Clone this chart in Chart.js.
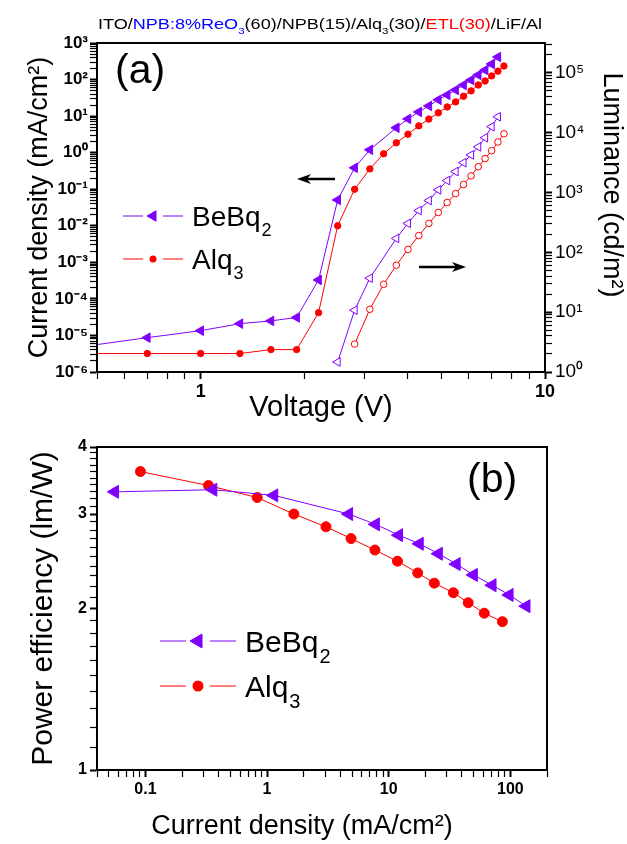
<!DOCTYPE html>
<html>
<head>
<meta charset="utf-8">
<script src="https://cdn.jsdelivr.net/npm/chart.js@4.4.0/dist/chart.umd.min.js"></script>
<style>
  body { margin: 0; background: #fff; }
  #wrap { position: relative; width: 627px; height: 844px; }
  canvas { position: absolute; left: 0; }
</style>
</head>
<body>
<div id="wrap">
  <canvas id="chartA" width="627" height="430" style="top:0px"></canvas>
  <canvas id="chartB" width="627" height="414" style="top:430px"></canvas>
</div>
<script>
var FONT = '"Liberation Sans", Arial, sans-serif';
var PURPLE = '#8000ff';
var RED = '#ff0000';

/* ---- (a) current density vs voltage ---- */
var voltBeBq = [0.4, 0.7, 1.0, 1.3, 1.6, 1.9, 2.2, 2.5, 2.8, 3.1, 3.7, 4.0, 4.3, 4.6, 4.9, 5.2, 5.5, 5.8, 6.1, 6.4, 6.7, 7.0, 7.3];
var jBeBq = [4.2e-6, 8.7e-6, 1.35e-5, 2.1e-5, 2.5e-5, 3.1e-5, 3.3e-4, 0.051, 0.385, 1.2, 4.8, 8.4, 13, 19, 28, 38, 52, 71, 97, 134, 182, 267, 414];
var voltAlq = [0.4, 0.7, 1.0, 1.3, 1.6, 1.9, 2.2, 2.5, 2.8, 3.1, 3.4, 3.7, 4.0, 4.3, 4.6, 4.9, 5.2, 5.5, 5.8, 6.1, 6.4, 6.7, 7.0, 7.3, 7.6];
var jAlq = [3.2e-6, 3.2e-6, 3.2e-6, 3.2e-6, 4.1e-6, 4.1e-6, 4.2e-5, 0.01, 0.10, 0.36, 0.93, 1.86, 3.2, 5.4, 8.3, 12.3, 17.8, 24.5, 35, 49, 71, 91, 126, 170, 235];

/* ---- (a) luminance vs voltage ---- */
var lumVoltBeBq = [2.5, 2.8, 3.1, 3.7, 4.0, 4.3, 4.6, 4.9, 5.2, 5.5, 5.8, 6.1, 6.4, 6.7, 7.0, 7.3];
var lumBeBq = [1.47, 10.8, 37, 171, 305, 500, 735, 1110, 1585, 2240, 3160, 4260, 5800, 8250, 12600, 18500];
var lumVoltAlq = [2.8, 3.1, 3.4, 3.7, 4.0, 4.3, 4.6, 4.9, 5.2, 5.5, 5.8, 6.1, 6.4, 6.7, 7.0, 7.3, 7.6];
var lumAlq = [2.93, 11.2, 29.3, 61, 112, 191, 305, 464, 681, 960, 1360, 1900, 2700, 3700, 5000, 7000, 9600];

/* ---- (b) power efficiency vs current density ---- */
var peJBeBq = [0.056, 0.36, 1.14, 4.7, 7.8, 12.1, 17.9, 25.7, 36, 49.8, 71, 98, 135];
var peBeBq = [3.30, 3.33, 3.25, 3.0, 2.87, 2.74, 2.64, 2.53, 2.42, 2.31, 2.21, 2.12, 2.02];
var peJAlq = [0.091, 0.33, 0.83, 1.66, 3.05, 4.9, 7.7, 11.8, 17.3, 23.7, 34, 45, 61, 86];
var peAlq = [3.6, 3.39, 3.22, 3.0, 2.84, 2.70, 2.57, 2.45, 2.33, 2.23, 2.14, 2.05, 1.96, 1.89];

/* ---- tick labels ---- */
var voltTickLabels = [1, 10];
var jTickExps = [-6, -5, -4, -3, -2, -1, 0, 1, 2, 3];
var lumTickExps = [0, 1, 2, 3, 4, 5];
var peJTickLabels = [0.1, 1, 10, 100];
var peTickLabels = [1, 2, 3, 4];

var SUP = {'0':'\u2070','1':'\u00b9','2':'\u00b2','3':'\u00b3','4':'\u2074','5':'\u2075','6':'\u2076','7':'\u2077','8':'\u2078','9':'\u2079','-':'\u207b'};
function pow10Label(e) {
  return '10' + String(e).split('').map(function(c){ return SUP[c]; }).join('');
}
function near(a, b) { return Math.abs(a - b) <= Math.abs(b) * 1e-6; }
function isPow10(v) { var l = Math.log10(v); return Math.abs(l - Math.round(l)) < 1e-6; }
function xy(xs, ys) { return xs.map(function(x, i){ return {x: x, y: ys[i]}; }); }

function logTicks(min, max) {
  var out = [];
  for (var e = Math.floor(Math.log10(min)); e <= Math.ceil(Math.log10(max)); e++) {
    for (var m = 1; m <= 9; m++) {
      var v = parseFloat((m * Math.pow(10, e)).toPrecision(6));
      if (v >= min * (1 - 1e-9) && v <= max * (1 + 1e-9)) out.push({value: v, major: m === 1});
    }
  }
  return out;
}

function tickGrid() {
  return {
    display: true, drawOnChartArea: false, tickLength: 7, tickColor: '#000',
    tickWidth: function(c){ return c.tick && c.tick.major ? 2 : 1.2; }
  };
}
var axisBorder = {display: true, color: '#000', width: 2};

function leftTriangle(ctx, x, y, r, fill, stroke) {
  ctx.beginPath();
  ctx.moveTo(x - r, y);
  ctx.lineTo(x + r * 0.5, y - r * 0.866);
  ctx.lineTo(x + r * 0.5, y + r * 0.866);
  ctx.closePath();
  ctx.fillStyle = fill; ctx.fill();
  ctx.strokeStyle = stroke; ctx.lineWidth = 1; ctx.stroke();
}
function dot(ctx, x, y, r, fill) {
  ctx.beginPath(); ctx.arc(x, y, r, 0, Math.PI * 2);
  ctx.fillStyle = fill; ctx.fill();
}
function legendItem(ctx, o) {
  ctx.strokeStyle = o.color; ctx.lineWidth = 1;
  ctx.beginPath();
  ctx.moveTo(o.x1, o.y); ctx.lineTo(o.mx - o.gap, o.y);
  ctx.moveTo(o.mx + o.gap, o.y); ctx.lineTo(o.x2, o.y);
  ctx.stroke();
  if (o.shape === 'tri') leftTriangle(ctx, o.mx, o.y, o.r, o.color, o.color);
  else dot(ctx, o.mx, o.y, o.r, o.color);
  ctx.fillStyle = '#000';
  ctx.textAlign = 'left'; ctx.textBaseline = 'alphabetic';
  ctx.font = o.size + 'px ' + FONT;
  ctx.fillText(o.text, o.tx, o.ty);
  var w = ctx.measureText(o.text).width;
  ctx.font = Math.round(o.size * 0.65) + 'px ' + FONT;
  ctx.fillText(o.sub, o.tx + w + 1, o.ty + o.size * 0.35);
}
function arrow(ctx, x1, x2, y) {
  var dir = x2 > x1 ? 1 : -1;
  ctx.strokeStyle = '#000'; ctx.fillStyle = '#000'; ctx.lineWidth = 2.5;
  ctx.beginPath(); ctx.moveTo(x1, y); ctx.lineTo(x2 - dir * 8, y); ctx.stroke();
  ctx.beginPath();
  ctx.moveTo(x2, y); ctx.lineTo(x2 - dir * 14, y - 5); ctx.lineTo(x2 - dir * 10, y); ctx.lineTo(x2 - dir * 14, y + 5);
  ctx.closePath(); ctx.fill();
}
function frame(chart) {
  var a = chart.chartArea, ctx = chart.ctx;
  ctx.strokeStyle = '#000'; ctx.lineWidth = 2;
  ctx.strokeRect(a.left, a.top, a.right - a.left, a.bottom - a.top);
}

var headParts = [
  ['ITO/', '#000', false], ['NPB:8%ReO', '#0000ff', false], ['3', '#0000ff', true],
  ['(60)/NPB(15)/Alq', '#000', false], ['3', '#000', true], ['(30)/', '#000', false],
  ['ETL(30)', '#ff0000', false], ['/LiF/Al', '#000', false]
];

var decorA = {
  id: 'decorA',
  afterDraw: function(chart) {
    var ctx = chart.ctx;
    ctx.save();
    frame(chart);
    // device structure header
    var total = 0;
    headParts.forEach(function(p){
      ctx.font = (p[2] ? 9 : 14) + 'px ' + FONT;
      total += ctx.measureText(p[0]).width;
    });
    ctx.save();
    ctx.translate(98, 29);
    ctx.scale(444 / total, 1);
    var x = 0;
    ctx.textAlign = 'left'; ctx.textBaseline = 'alphabetic';
    headParts.forEach(function(p){
      ctx.font = (p[2] ? 9 : 14) + 'px ' + FONT;
      ctx.fillStyle = p[1];
      ctx.fillText(p[0], x, p[2] ? 5 : 0);
      x += ctx.measureText(p[0]).width;
    });
    ctx.restore();
    // right axis title, sits a little above the axis centre
    ctx.save();
    ctx.translate(611, 185);
    ctx.rotate(Math.PI / 2);
    ctx.fillStyle = '#000'; ctx.font = '27px ' + FONT;
    ctx.textAlign = 'center'; ctx.textBaseline = 'middle';
    ctx.fillText('Luminance (cd/m\u00b2)', 0, 0);
    ctx.restore();
    ctx.fillStyle = '#000'; ctx.font = '41px ' + FONT;
    ctx.textAlign = 'left'; ctx.textBaseline = 'alphabetic';
    ctx.fillText('(a)', 115, 83);
    arrow(ctx, 335, 297, 179);
    arrow(ctx, 419, 466, 267);
    legendItem(ctx, {x1: 123, x2: 183, mx: 153, gap: 10, y: 216, shape: 'tri', r: 6, color: PURPLE, text: 'BeBq', sub: '2', size: 28, tx: 192, ty: 226});
    legendItem(ctx, {x1: 123, x2: 183, mx: 153, gap: 10, y: 259, shape: 'dot', r: 3.5, color: RED, text: 'Alq', sub: '3', size: 28, tx: 192, ty: 269});
    ctx.restore();
  }
};

var decorB = {
  id: 'decorB',
  afterDraw: function(chart) {
    var ctx = chart.ctx;
    ctx.save();
    frame(chart);
    // x axis title, drawn left of the axis centre as in the original
    ctx.fillStyle = '#000'; ctx.font = '27px ' + FONT;
    ctx.textAlign = 'center'; ctx.textBaseline = 'middle';
    ctx.fillText('Current density (mA/cm\u00b2)', 302, 397);
    ctx.font = '41px ' + FONT;
    ctx.textAlign = 'left'; ctx.textBaseline = 'alphabetic';
    ctx.fillText('(b)', 467, 62);
    legendItem(ctx, {x1: 160, x2: 236, mx: 198, gap: 12, y: 211, shape: 'tri', r: 8, color: PURPLE, text: 'BeBq', sub: '2', size: 30, tx: 245, ty: 222});
    legendItem(ctx, {x1: 160, x2: 236, mx: 198, gap: 12, y: 256, shape: 'dot', r: 5.5, color: RED, text: 'Alq', sub: '3', size: 30, tx: 245, ty: 267});
    ctx.restore();
  }
};

var ctxA = document.getElementById('chartA').getContext('2d');
var chartA = new Chart(ctxA, {
  type: 'line',
  data: {
    datasets: [{
      label: 'BeBq2 J',
      data: xy(voltBeBq, jBeBq),
      borderColor: PURPLE, borderWidth: 1,
      pointStyle: 'triangle', pointRotation: 270, pointRadius: 5.5,
      pointBackgroundColor: PURPLE, pointBorderColor: PURPLE,
      yAxisID: 'y'
    }, {
      label: 'Alq3 J',
      data: xy(voltAlq, jAlq),
      borderColor: RED, borderWidth: 1,
      pointStyle: 'circle', pointRadius: 3.2,
      pointBackgroundColor: RED, pointBorderColor: RED,
      yAxisID: 'y'
    }, {
      label: 'BeBq2 L',
      data: xy(lumVoltBeBq, lumBeBq),
      borderColor: PURPLE, borderWidth: 1,
      pointStyle: 'triangle', pointRotation: 270, pointRadius: 5,
      pointBackgroundColor: '#fff', pointBorderColor: PURPLE, pointBorderWidth: 1,
      yAxisID: 'y2'
    }, {
      label: 'Alq3 L',
      data: xy(lumVoltAlq, lumAlq),
      borderColor: RED, borderWidth: 1,
      pointStyle: 'circle', pointRadius: 3.3,
      pointBackgroundColor: '#fff', pointBorderColor: RED, pointBorderWidth: 1,
      yAxisID: 'y2'
    }]
  },
  options: {
    responsive: false, animation: false,
    layout: {padding: {top: 43, left: 0, right: 0, bottom: 0}},
    plugins: {legend: {display: false}, tooltip: {enabled: false}},
    scales: {
      x: {
        type: 'logarithmic', min: 0.5, max: 10,
        afterFit: function(s){ s.height = 58; },
        afterBuildTicks: function(s){ s.ticks = logTicks(s.min, s.max); },
        ticks: {
          autoSkip: false, maxRotation: 0, padding: 2, color: '#000',
          font: {family: FONT, size: 18, weight: 'bold'},
          callback: function(v){ return voltTickLabels.some(function(t){ return near(v, t); }) ? String(v) : ''; }
        },
        grid: tickGrid(), border: axisBorder,
        title: {display: true, text: 'Voltage (V)', color: '#000', font: {family: FONT, size: 29}, padding: {top: 0, bottom: 5}}
      },
      y: {
        type: 'logarithmic', position: 'left', min: 1e-6, max: 1e3,
        afterFit: function(s){ s.width = 97; },
        afterBuildTicks: function(s){ s.ticks = logTicks(s.min, s.max); },
        ticks: {
          autoSkip: false, padding: 2, color: '#000',
          font: {family: FONT, size: 17, weight: 'bold'},
          callback: function(v){
            if (!isPow10(v)) return '';
            var e = Math.round(Math.log10(v));
            return jTickExps.indexOf(e) >= 0 ? pow10Label(e) : '';
          }
        },
        grid: tickGrid(), border: axisBorder,
        title: {display: true, text: 'Current density (mA/cm\u00b2)', color: '#000', font: {family: FONT, size: 27}, padding: {top: 23, bottom: 0}}
      },
      y2: {
        type: 'logarithmic', position: 'right', min: 1, max: 316228,
        afterFit: function(s){ s.width = 82; },
        afterBuildTicks: function(s){ s.ticks = logTicks(s.min, s.max); },
        ticks: {
          autoSkip: false, padding: 3, color: '#000',
          font: {family: FONT, size: 19},
          callback: function(v){
            if (!isPow10(v)) return '';
            var e = Math.round(Math.log10(v));
            return lumTickExps.indexOf(e) >= 0 ? pow10Label(e) : '';
          }
        },
        grid: tickGrid(), border: axisBorder,
        title: {display: false}
      }
    }
  },
  plugins: [decorA]
});

var ctxB = document.getElementById('chartB').getContext('2d');
var chartB = new Chart(ctxB, {
  type: 'line',
  data: {
    datasets: [{
      label: 'BeBq2',
      data: xy(peJBeBq, peBeBq),
      borderColor: PURPLE, borderWidth: 1,
      pointStyle: 'triangle', pointRotation: 270, pointRadius: 7.5,
      pointBackgroundColor: PURPLE, pointBorderColor: PURPLE
    }, {
      label: 'Alq3',
      data: xy(peJAlq, peAlq),
      borderColor: RED, borderWidth: 1,
      pointStyle: 'circle', pointRadius: 5,
      pointBackgroundColor: RED, pointBorderColor: RED
    }]
  },
  options: {
    responsive: false, animation: false,
    layout: {padding: {top: 17, left: 0, right: 80, bottom: 0}},
    plugins: {legend: {display: false}, tooltip: {enabled: false}},
    scales: {
      x: {
        type: 'logarithmic', min: 0.04, max: 200,
        afterFit: function(s){ s.height = 74; },
        afterBuildTicks: function(s){ s.ticks = logTicks(s.min, s.max); },
        ticks: {
          autoSkip: false, maxRotation: 0, padding: 3, color: '#000',
          font: {family: FONT, size: 16, weight: 'bold'},
          callback: function(v){ return peJTickLabels.some(function(t){ return near(v, t); }) ? String(v) : ''; }
        },
        grid: tickGrid(), border: axisBorder,
        title: {display: false}
      },
      y: {
        type: 'logarithmic', min: 1, max: 4,
        afterFit: function(s){ s.width = 97; },
        afterBuildTicks: function(s){
          var t = [];
          for (var i = 10; i <= 40; i++) t.push({value: i / 10, major: i % 10 === 0});
          s.ticks = t;
        },
        ticks: {
          autoSkip: false, padding: 3, color: '#000',
          font: {family: FONT, size: 16, weight: 'bold'},
          callback: function(v){ return peTickLabels.some(function(t){ return near(v, t); }) ? String(Math.round(v)) : ''; }
        },
        grid: tickGrid(), border: axisBorder,
        title: {display: true, text: 'Power efficiency (lm/W)', color: '#000', font: {family: FONT, size: 30}, padding: {top: 26, bottom: 0}}
      }
    }
  },
  plugins: [decorB]
});
</script>
</body>
</html>
